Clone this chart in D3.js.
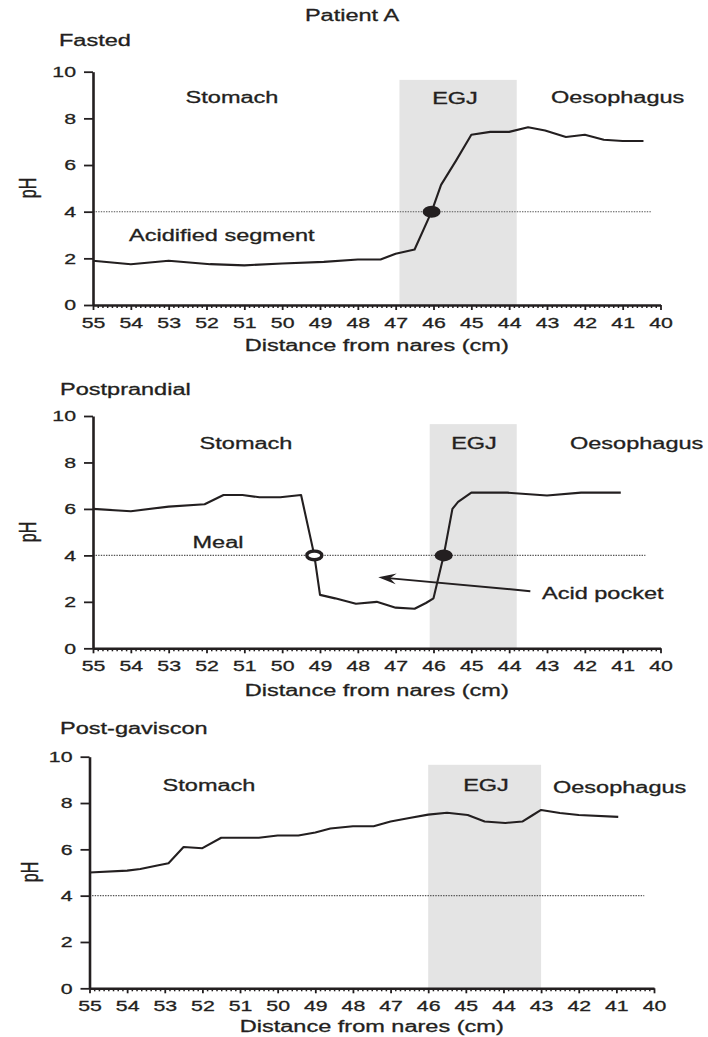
<!DOCTYPE html>
<html>
<head>
<meta charset="utf-8">
<script src="https://cdn.jsdelivr.net/npm/d3@7"></script>
<style>
  body { margin: 0; background: #fff; }
  svg { display: block; }
  text { font-family: "Liberation Sans", Arial, Helvetica, sans-serif; fill: #231f20; stroke: #231f20; stroke-width: 0.3px; }
</style>
</head>
<body>
<svg id="chart" width="708" height="1037"></svg>
<script>
// ---- Data: pH along the pull-through, distance from nares (cm) ----
const fastedDistance = [55, 54, 53, 51.9, 51, 50, 48.9, 48, 47.4, 47.0, 46.5, 46.05, 45.8, 45.4, 45.0, 44.5, 44.0, 43.5, 43.05, 42.5, 42.0, 41.5, 41.0, 40.45];
const fastedPH       = [1.9, 1.75, 1.9, 1.75, 1.7, 1.78, 1.85, 1.95, 1.95, 2.2, 2.38, 4.0, 5.15, 6.2, 7.3, 7.42, 7.42, 7.62, 7.48, 7.2, 7.3, 7.08, 7.03, 7.03];

const postDistance = [55, 54, 53, 52.05, 51.55, 51.05, 50.6, 50.05, 49.5, 49.15, 49.0, 48.6, 48.05, 47.5, 47.0, 46.5, 46.2, 46.0, 45.73, 45.5, 45.35, 45.0, 44.05, 43.0, 42.1, 41.05];
const postPH       = [6.0, 5.9, 6.1, 6.2, 6.6, 6.6, 6.5, 6.5, 6.6, 4.0, 2.3, 2.15, 1.92, 2.0, 1.75, 1.7, 1.95, 2.15, 4.0, 6.0, 6.3, 6.7, 6.7, 6.58, 6.7, 6.7];

const gavDistance = [55, 54.0, 53.65, 53.2, 52.9, 52.5, 52.0, 51.5, 51.0, 50.5, 50.0, 49.45, 49.0, 48.6, 48.0, 47.45, 47.0, 46.5, 46.0, 45.5, 44.95, 44.5, 43.95, 43.5, 43.25, 43.0, 42.5, 42.0, 40.95];
const gavPH       = [5.0, 5.08, 5.15, 5.3, 5.4, 6.1, 6.05, 6.5, 6.5, 6.5, 6.6, 6.6, 6.73, 6.9, 7.0, 7.0, 7.2, 7.35, 7.5, 7.58, 7.48, 7.2, 7.14, 7.2, 7.45, 7.7, 7.57, 7.48, 7.4];

// oesophagogastric junction extent (cm) for each recording
const fastedEGJ = [46.9, 43.8];
const postEGJ   = [46.1, 43.8];
const gavEGJ    = [46.0, 43.0];
const egjTopPH  = 9.65;

// pH 4 crossings (open = proximal margin of meal, filled = acid front)
const fastedCrossings = [{ distance: 46.05, open: false }];
const postCrossings   = [{ distance: 49.15, open: true }, { distance: 45.73, open: false }];
const gavCrossings    = [];

const acidThreshold = 4;
const thresholdEnd  = [40.25, 40.4, 40.26];

// "Acid pocket" arrow, tail -> tip (distance, pH)
const acidArrowTail = [43.44, 2.46];
const acidArrowTip  = [47.46, 3.06];

// axis ticks
const distanceTicks = [55, 54, 53, 52, 51, 50, 49, 48, 47, 46, 45, 44, 43, 42, 41, 40];
const phTicks = [0, 2, 4, 6, 8, 10];

// ---- Layout ----
const SX = 1.47;       // horizontal stretch of the lettering
const INK = "#231f20";

const panels = [
  { title: "Fasted", dist: fastedDistance, ph: fastedPH, egj: fastedEGJ, crossings: fastedCrossings, thrEnd: thresholdEnd[0],
    box: { left: 93, right: 660.5, y0: 305, y10: 71.7 }, titlePos: [59, 40], phPos: [28, 188], xLabelY: 345,
    regions: [
      { text: "Stomach", x: 232, y: 97, anchor: "middle" },
      { text: "EGJ", x: 455, y: 98, anchor: "middle" },
      { text: "Oesophagus", x: 551, y: 97, anchor: "start" },
      { text: "Acidified segment", x: 129, y: 235, anchor: "start" }
    ] },
  { title: "Postprandial", dist: postDistance, ph: postPH, egj: postEGJ, crossings: postCrossings, thrEnd: thresholdEnd[1],
    box: { left: 93, right: 660.5, y0: 648.3, y10: 416 }, titlePos: [60, 389], phPos: [28, 532], xLabelY: 690,
    regions: [
      { text: "Stomach", x: 246, y: 443, anchor: "middle" },
      { text: "EGJ", x: 474, y: 443, anchor: "middle" },
      { text: "Oesophagus", x: 570, y: 443, anchor: "start" },
      { text: "Meal", x: 218, y: 542, anchor: "middle" },
      { text: "Acid pocket", x: 542, y: 593, anchor: "start" }
    ], arrow: true },
  { title: "Post-gaviscon", dist: gavDistance, ph: gavPH, egj: gavEGJ, crossings: gavCrossings, thrEnd: thresholdEnd[2],
    box: { left: 89.5, right: 654, y0: 988.3, y10: 756.7 }, titlePos: [60, 728], phPos: [30, 872], xLabelY: 1026,
    regions: [
      { text: "Stomach", x: 209, y: 785, anchor: "middle" },
      { text: "EGJ", x: 486, y: 785, anchor: "middle" },
      { text: "Oesophagus", x: 553, y: 787, anchor: "start" }
    ] }
];

const svg = d3.select("#chart");

function label(parent, x, y, str, size, anchor) {
  return parent.append("text")
    .attr("transform", `translate(${x},${y}) scale(${SX},1)`)
    .attr("text-anchor", anchor || "start")
    .attr("dy", "0.35em")
    .style("font-size", size + "px")
    .text(str);
}

label(svg, 352, 15, "Patient A", 16, "middle");

panels.forEach(p => {
  const g = svg.append("g");
  const x = d3.scaleLinear().domain([55, 40]).range([p.box.left, p.box.right]);
  const y = d3.scaleLinear().domain([0, 10]).range([p.box.y0, p.box.y10]);

  // EGJ shading
  g.append("rect")
    .attr("x", x(p.egj[0]))
    .attr("y", y(egjTopPH))
    .attr("width", x(p.egj[1]) - x(p.egj[0]))
    .attr("height", y(0) - y(egjTopPH))
    .attr("fill", "#e4e4e4");

  // pH 4 reference
  g.append("line")
    .attr("x1", x(55)).attr("x2", x(p.thrEnd))
    .attr("y1", y(acidThreshold)).attr("y2", y(acidThreshold))
    .attr("stroke", "#555").attr("stroke-width", 1.1)
    .attr("stroke-dasharray", "1.4,1.2");

  // minor distance ticks
  const minor = [];
  for (let k = 0; k < 15 * 8; k++) {
    const v = 55 - k / 8;
    if (k % 8 !== 0) minor.push(v);
  }
  g.append("g")
    .attr("transform", `translate(0,${y(0)})`)
    .call(d3.axisBottom(x).tickValues(minor).tickSize(3).tickSizeOuter(0).tickFormat(""))
    .call(a => a.select(".domain").remove())
    .call(a => a.selectAll(".tick line").attr("stroke", INK).attr("stroke-width", 1.5));

  // distance axis
  const xa = g.append("g")
    .attr("transform", `translate(0,${y(0)})`)
    .call(d3.axisBottom(x).tickValues(distanceTicks).tickSize(5).tickSizeOuter(0).tickPadding(7).tickFormat(d3.format("d")));
  xa.select(".domain").attr("stroke", INK).attr("stroke-width", 2.6);
  xa.selectAll(".tick line").attr("stroke", INK).attr("stroke-width", 1.8);
  xa.selectAll("text")
    .style("font-size", "15px")
    .style("font-family", "'Liberation Sans', Arial, sans-serif")
    .attr("fill", INK)
    .attr("transform", `scale(${SX - 0.05},1)`);

  // pH axis
  const ya = g.append("g")
    .attr("transform", `translate(${x(55)},0)`)
    .call(d3.axisLeft(y).tickValues(phTicks).tickSize(9).tickSizeOuter(0).tickPadding(8));
  ya.select(".domain").attr("stroke", INK).attr("stroke-width", 2.6);
  ya.selectAll(".tick line").attr("stroke", INK).attr("stroke-width", 1.8);
  ya.selectAll("text")
    .style("font-size", "15px")
    .style("font-family", "'Liberation Sans', Arial, sans-serif")
    .attr("fill", INK)
    .attr("x", null)
    .attr("transform", `translate(-17,0) scale(${SX - 0.05},1)`);

  // pH trace
  const pts = p.dist.map((d, i) => [d, p.ph[i]]);
  g.append("path")
    .datum(pts)
    .attr("fill", "none")
    .attr("stroke", INK)
    .attr("stroke-width", 2.1)
    .attr("stroke-linejoin", "round")
    .attr("d", d3.line().x(d => x(d[0])).y(d => y(d[1])));

  // pH 4 crossing markers
  g.selectAll("ellipse.crossing")
    .data(p.crossings)
    .join("ellipse")
    .attr("class", "crossing")
    .attr("cx", d => x(d.distance))
    .attr("cy", y(acidThreshold))
    .attr("rx", d => d.open ? 7.5 : 9)
    .attr("ry", d => d.open ? 4.3 : 6)
    .attr("fill", d => d.open ? "#fff" : INK)
    .attr("stroke", INK)
    .attr("stroke-width", d => d.open ? 3.4 : 0);

  // acid pocket arrow
  if (p.arrow) {
    const tail = [x(acidArrowTail[0]), y(acidArrowTail[1])];
    const tip = [x(acidArrowTip[0]), y(acidArrowTip[1])];
    const dx = tip[0] - tail[0], dy = tip[1] - tail[1];
    const len = Math.hypot(dx, dy);
    const u = [dx / len, dy / len], n = [-u[1], u[0]];
    const L = 18, W = 5.5;
    g.append("line")
      .attr("x1", tail[0]).attr("y1", tail[1])
      .attr("x2", tip[0] - u[0] * 10).attr("y2", tip[1] - u[1] * 10)
      .attr("stroke", INK).attr("stroke-width", 2);
    const head = [
      tip,
      [tip[0] - u[0] * L + n[0] * W, tip[1] - u[1] * L + n[1] * W],
      [tip[0] - u[0] * L * 0.65, tip[1] - u[1] * L * 0.65],
      [tip[0] - u[0] * L - n[0] * W, tip[1] - u[1] * L - n[1] * W]
    ];
    g.append("path")
      .attr("d", "M" + head.map(q => q.join(",")).join("L") + "Z")
      .attr("fill", INK);
  }

  // lettering
  label(g, p.titlePos[0], p.titlePos[1], p.title, 16, "start");
  p.regions.forEach(r => label(g, r.x, r.y, r.text, 16, r.anchor));
  label(g, (x(55) + x(40)) / 2, p.xLabelY, "Distance from nares (cm)", 16, "middle");
  g.append("text")
    .attr("transform", `translate(${p.phPos[0]},${p.phPos[1]}) scale(${SX},1) rotate(-90)`)
    .attr("text-anchor", "middle")
    .attr("dy", "0.35em")
    .style("font-size", "16px")
    .text("pH");
});
</script>
</body>
</html>
